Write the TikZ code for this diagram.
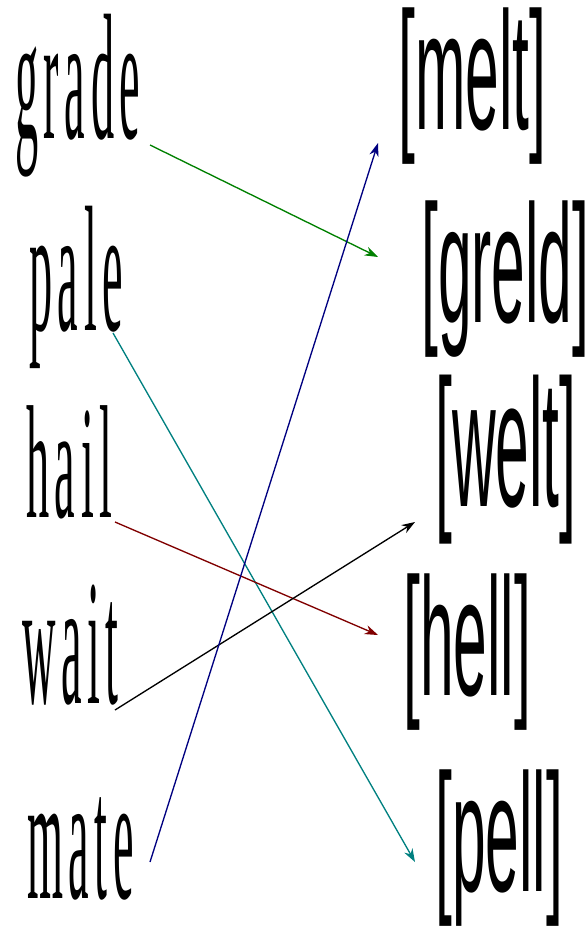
\documentclass[tikz,border=0pt]{standalone}
\usepackage{graphicx}
\usepackage{fontspec}
\usetikzlibrary{arrows.meta}
\newfontfamily\wordfont[LetterSpace=12]{Liberation Serif}
\newfontfamily\ipafont{Liberation Sans}
\newcommand{\narrow}[1]{\scalebox{0.31}[1.2]{#1}}
\newcommand{\thinipa}[1]{\scalebox{0.36}[1]{#1}}
\definecolor{arrgreen}{RGB}{0,128,0}
\definecolor{arrteal}{RGB}{0,128,128}
\definecolor{arrred}{RGB}{128,0,0}
\definecolor{arrnavy}{RGB}{0,0,128}
\tikzset{
  word/.style={inner sep=0pt, anchor=base west, font=\wordfont\fontsize{112}{112}\selectfont},
  ipa/.style={inner sep=0pt, anchor=base west, font=\ipafont\fontsize{126}{126}\selectfont},
  link/.style={->, line width=1pt}
}
\begin{document}
\begin{tikzpicture}[x=0.75pt, y=-0.75pt, >={Stealth[length=10pt,width=7pt]}]
    \useasboundingbox (0,0) rectangle (588,929);
    % words
    \node[word] (grade) at (15,138) {\narrow{grade}};
    \node[word] (pale) at (29,330) {\narrow{pale}};
    \node[word] (hail) at (26,517) {\scalebox{1}[0.9]{\narrow{hail}}};
    \node[word] (wait) at (22,703) {\narrow{wait}};
    \node[word] (mate) at (27,898) {\narrow{mate}};
    % transcriptions
    \node[ipa] (melt) at (398,129) {\thinipa{[melt]}};
    \node[ipa] (greld) at (421,322) {\thinipa{[greld]}};
    \node[ipa] (welt) at (435,506) {\scalebox{1}[1.08]{\thinipa{[welt]}}};
    \node[ipa] (hell) at (403,695) {\thinipa{[hell]}};
    \node[ipa] (pell) at (435,891) {\thinipa{[pell]}};
    % arrow ends
    \coordinate (gradeout) at (150,145);
    \coordinate (paleout) at (113,333);
    \coordinate (hailout) at (115,522);
    \coordinate (waitout) at (115,710);
    \coordinate (mateout) at (150,862);
    \coordinate (meltin) at (378,143);
    \coordinate (greldin) at (378,257);
    \coordinate (weltin) at (415,522);
    \coordinate (hellin) at (378,635);
    \coordinate (pellin) at (415,862);
    \draw[link, arrgreen] (gradeout) -- (greldin);
    \draw[link, arrteal] (paleout) -- (pellin);
    \draw[link, arrred] (hailout) -- (hellin);
    \draw[link, black] (waitout) -- (weltin);
    \draw[link, arrnavy] (mateout) -- (meltin);
\end{tikzpicture}
\end{document}
